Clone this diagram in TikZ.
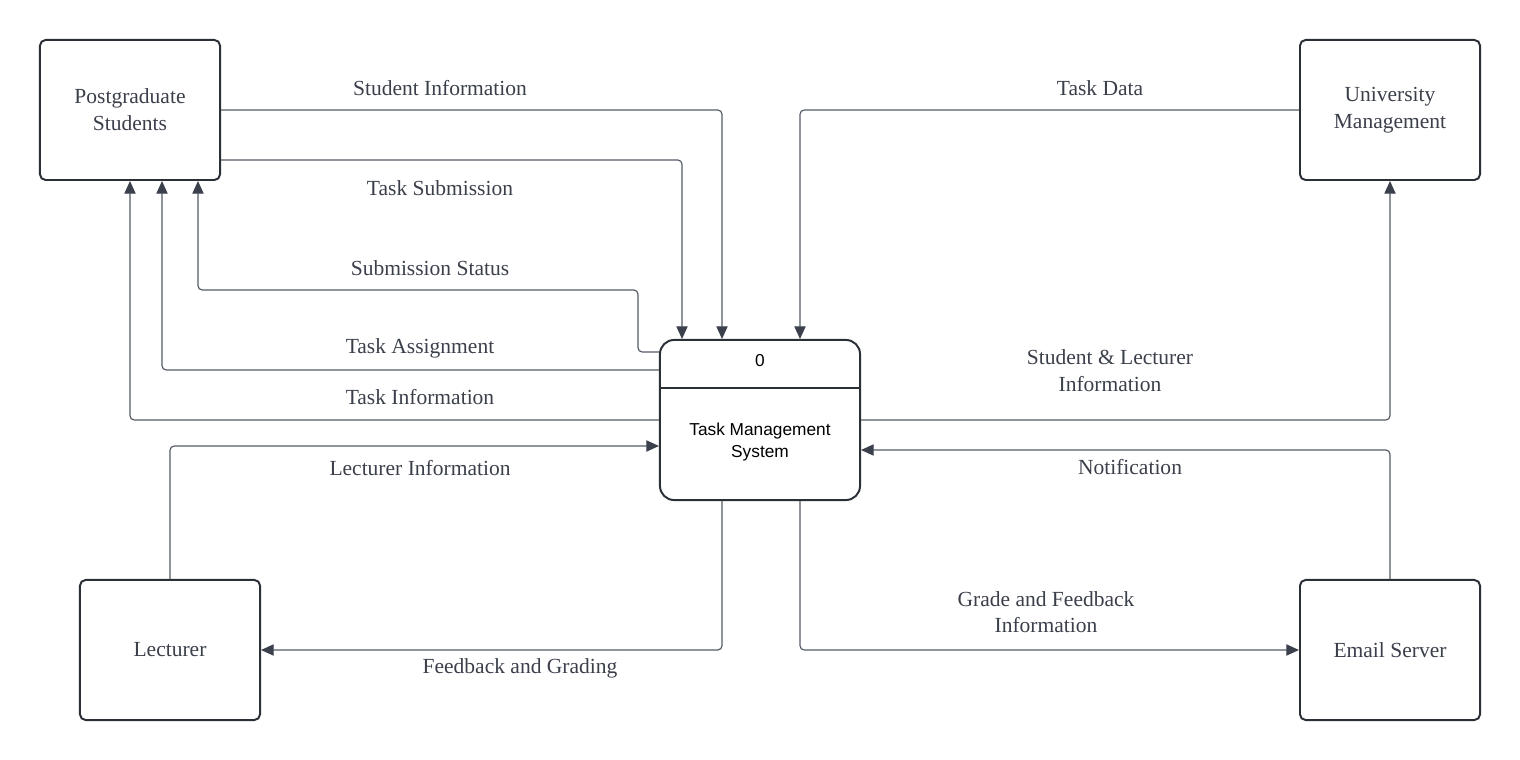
\documentclass[tikz,border=0pt]{standalone}
\usepackage{fontspec}
\setmainfont{Liberation Serif}
\setsansfont{Liberation Sans}
\usetikzlibrary{arrows.meta}
\definecolor{boxline}{HTML}{2B2F36}
\definecolor{flowline}{HTML}{555A65}
\definecolor{tipfill}{HTML}{3A404C}
\definecolor{labeltext}{HTML}{3A3F4A}

\begin{document}
\begin{tikzpicture}[
  x=0.025cm, y=-0.025cm,
  entity/.style={draw=boxline, line width=1.4pt, rounded corners=4pt, minimum width=4.5cm, minimum height=3.5cm, align=center, text=labeltext, font=\fontsize{15.3}{19}\selectfont},
  process/.style={draw=boxline, line width=1.4pt, rounded corners=10pt, minimum width=5cm, minimum height=4cm},
  flow/.style={draw=flowline, line width=0.85pt, rounded corners=3pt, -{Triangle[length=9pt, width=8pt, color=tipfill]}},
  lbl/.style={text=labeltext, align=center, font=\fontsize{15.3}{19}\selectfont},
  ptxt/.style={align=center, font=\sffamily\fontsize{12.3}{15.6}\selectfont}
]
  \useasboundingbox (0,0) rectangle (1520,760);

  % external entities
  \node[entity] (pg) at (130,110) {Postgraduate\\Students};
  \node[entity] (um) at (1390,110) {University\\Management};
  \node[entity] (lect) at (170,650) {Lecturer};
  \node[entity] (email) at (1390,650) {Email Server};

  % process 0
  \node[process] (sys) at (760,420) {};
  \draw[draw=boxline, line width=1.4pt] (sys.west |- 0,388) -- (sys.east |- 0,388);
  \node[ptxt] (num) at (760,361) {0};
  \node[ptxt] (name) at (760,442) {Task Management\\System};

  % data flows
  \draw[flow] (pg.east) -| (sys.north -| 722,0);
  \draw[flow] (pg.east |- 0,160) -| (sys.north -| 682,0);
  \draw[flow] (sys.west |- 0,352) -| (638,290) -| (pg.south -| 198,0);
  \draw[flow] (sys.west |- 0,370) -| (pg.south -| 162,0);
  \draw[flow] (sys.west |- 0,420) -| (pg.south -| 130,0);
  \draw[flow] (um.west) -| (sys.north -| 800,0);
  \draw[flow] (sys.east |- 0,420) -| (um.south);
  \draw[flow] (email.north) |- (sys.east |- 0,450);
  \draw[flow] (lect.north) |- (sys.west |- 0,446);
  \draw[flow] (sys.south -| 722,0) |- (lect.east);
  \draw[flow] (sys.south -| 800,0) |- (email.west);

  % labels
  \node[lbl] (l1) at (440,88) {Student Information};
  \node[lbl] (l2) at (440,188) {Task Submission};
  \node[lbl] (l3) at (430,268) {Submission Status};
  \node[lbl] (l4) at (420,348) {Task Assignment};
  \node[lbl] (l5) at (420,397) {Task Information};
  \node[lbl] (l6) at (420,468) {Lecturer Information};
  \node[lbl] (l7) at (520,668) {Feedback and Grading};
  \node[lbl] (l8) at (1100,88) {Task Data};
  \node[lbl] (l9) at (1110,371) {Student \& Lecturer\\Information};
  \node[lbl] (l10) at (1130,467) {Notification};
  \node[lbl] (l11) at (1046,612) {Grade and Feedback\\Information};
\end{tikzpicture}
\end{document}
